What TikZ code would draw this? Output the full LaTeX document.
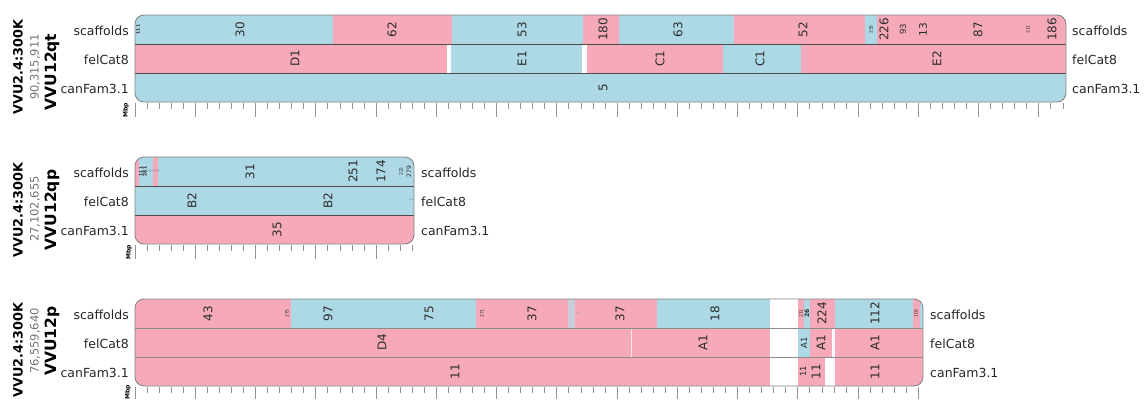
\documentclass[tikz,border=0pt]{standalone}
\usepackage{fontspec}
\setmainfont{DejaVu Sans}
\definecolor{bl}{RGB}{173,216,230}
\definecolor{pk}{RGB}{246,170,185}
\definecolor{gb}{RGB}{200,205,215}
\definecolor{txt}{RGB}{45,45,45}
\tikzset{
  lab/.style={rotate=90, font=\fontsize{12}{12}\selectfont, text=txt, inner sep=0pt},
  slab/.style={rotate=90, font=\fontsize{8.5}{8.5}\selectfont, text=txt, inner sep=0pt},
  tlab/.style={rotate=90, font=\fontsize{4.5}{4.5}\selectfont, text=txt, inner sep=0pt},
  glab/.style={rotate=90, font=\fontsize{4.5}{4.5}\selectfont, text=black!45, inner sep=0pt},
  rowlab/.style={font=\fontsize{12.5}{12.5}\selectfont, text=black!85, inner sep=0pt},
  ttl/.style={rotate=90, font=\bfseries\fontsize{12.8}{12.8}\selectfont, inner sep=0pt},
  chr/.style={rotate=90, font=\bfseries\fontsize{15.5}{15.5}\selectfont, inner sep=0pt},
  num/.style={rotate=90, font=\fontsize{11.5}{11.5}\selectfont, text=black!55, inner sep=0pt},
  mbp/.style={rotate=90, font=\bfseries\fontsize{6}{6}\selectfont, inner sep=0pt},
  tickmark/.style={draw=black!42, line width=0.7pt},
  outline/.style={draw=black!50, line width=0.8pt, rounded corners=9pt},
  sepline/.style={draw=black!70, line width=0.9pt},
}
\begin{document}
\begin{tikzpicture}[x=1pt,y=-1pt]
\useasboundingbox (0,0) rectangle (1145,399);

% ================= Panel 1 =================
\begin{scope}
\clip[rounded corners=9pt] (135,15) rectangle (1066,102);
\foreach \a/\b/\c in {135/333/bl,333/452/pk,452/583/bl,583/619/pk,619/734/bl,734/865/pk,865/877/bl,877/1066/pk}
  \fill[fill=\c] (\a,15) rectangle (\b,44);
\foreach \a/\b/\c in {135/447/pk,447/451/white,451/582/bl,582/587/white,587/723/pk,723/801/bl,801/1066/pk}
  \fill[fill=\c] (\a,44) rectangle (\b,73);
\fill[bl] (135,73) rectangle (1066,102);
\end{scope}
\draw[sepline] (135,44) -- (1066,44) (135,73) -- (1066,73);
\draw[outline] (135,15) rectangle (1066,102);
\foreach \k in {0,...,77} \draw[tickmark] ({135+12.05*\k},103) -- ++(0,6);
\foreach \k in {0,5,...,75} \draw[tickmark] ({135+12.05*\k},103) -- ++(0,14);

\node[tlab,font=\bfseries\fontsize{4.5}{4.5}\selectfont] (a0) at (138,29.5) {111};
\node[lab] (a1) at (240,29.5) {30};
\node[lab] (a2) at (392,29.5) {62};
\node[lab] (a3) at (522,29.5) {53};
\node[lab] (a4) at (603,29.5) {180};
\node[lab] (a5) at (678,29.5) {63};
\node[lab] (a6) at (803,29.5) {52};
\node[tlab] (a7) at (871,29.5) {235};
\node[lab] (a8) at (884,29.5) {226};
\node[slab] (a9) at (903,29.5) {93};
\node[lab,font=\fontsize{10.5}{10.5}\selectfont] (a10) at (923,29.5) {13};
\node[lab] (a11) at (978,29.5) {87};
\node[tlab] (a12) at (1028,29.5) {211};
\node[lab] (a13) at (1052,29.5) {186};

\node[lab] (b1) at (295,58.5) {D1};
\node[lab] (b2) at (522,58.5) {E1};
\node[lab] (b3) at (660,58.5) {C1};
\node[lab] (b4) at (760,58.5) {C1};
\node[lab] (b5) at (937,58.5) {E2};

\node[lab] (c1) at (603,87.5) {5};

\node[rowlab,anchor=east] (l1a) at (129,30.5) {scaffolds};
\node[rowlab,anchor=east] (l1b) at (129,59.5) {felCat8};
\node[rowlab,anchor=east] (l1c) at (129,88.5) {canFam3.1};
\node[rowlab,anchor=west] (r1a) at (1072,30.5) {scaffolds};
\node[rowlab,anchor=west] (r1b) at (1072,59.5) {felCat8};
\node[rowlab,anchor=west] (r1c) at (1072,88.5) {canFam3.1};

\node[ttl] (t1a) at (18,67) {VVU2.4:300K};
\node[num] (t1b) at (35,67) {90,315,911};
\node[chr] (t1c) at (52,72) {VVU12qt};
\node[mbp] (m1) at (126,110) {Mbp};

% ================= Panel 2 =================
\begin{scope}
\clip[rounded corners=9pt] (135,157) rectangle (414,244);
\foreach \a/\b/\c in {135/139/pk,139/153/bl,153/158/pk,158/414/bl}
  \fill[fill=\c] (\a,157) rectangle (\b,186);
\fill[bl] (135,186) rectangle (414,215);
\fill[pk] (135,215) rectangle (414,244);
\end{scope}
\draw[sepline] (135,186) -- (414,186) (135,215) -- (414,215);
\draw[outline] (135,157) rectangle (414,244);
\foreach \k in {0,...,23} \draw[tickmark] ({135+12.05*\k},245) -- ++(0,6);
\foreach \k in {0,5,...,20} \draw[tickmark] ({135+12.05*\k},245) -- ++(0,14);

\node[tlab,font=\bfseries\fontsize{4.5}{4.5}\selectfont] (d0) at (141,171.5) {111};
\node[tlab,font=\bfseries\fontsize{4.5}{4.5}\selectfont] (d0b) at (145,171.5) {281};
\node[glab] (d0c) at (150,171.5) {4};
\node[glab] (d0d) at (154,171.5) {4};
\node[glab] (d0e) at (158,171.5) {4};
\node[lab] (d1) at (250,171.5) {31};
\node[lab] (d2) at (353,171.5) {251};
\node[lab] (d3) at (381,171.5) {174};
\node[tlab] (d4) at (401,171.5) {222};
\node[tlab,font=\fontsize{6}{6}\selectfont] (d5) at (409,171.5) {279};

\node[lab] (e1) at (192,200.5) {B2};
\node[lab] (e2) at (328,200.5) {B2};
\node[glab] (e3) at (411,200.5) {1};

\node[lab] (f1) at (277,229.5) {35};

\node[rowlab,anchor=east] (l2a) at (129,172.5) {scaffolds};
\node[rowlab,anchor=east] (l2b) at (129,201.5) {felCat8};
\node[rowlab,anchor=east] (l2c) at (129,230.5) {canFam3.1};
\node[rowlab,anchor=west] (r2a) at (421,172.5) {scaffolds};
\node[rowlab,anchor=west] (r2b) at (421,201.5) {felCat8};
\node[rowlab,anchor=west] (r2c) at (421,230.5) {canFam3.1};

\node[ttl] (t2a) at (18,210) {VVU2.4:300K};
\node[num] (t2b) at (35,209) {27,102,655};
\node[chr] (t2c) at (52,210) {VVU12qp};
\node[mbp] (m2) at (129,252) {Mbp};

% ================= Panel 3 =================
\begin{scope}
\clip[rounded corners=9pt] (135,299) rectangle (923,386);
\foreach \a/\b/\c in {135/291/pk,291/476/bl,476/568/pk,568/575/gb,575/657/pk,657/770/bl,770/798/white,798/804/pk,804/810/bl,810/835/pk,835/913/bl,913/920/pk,920/923/bl}
  \fill[fill=\c] (\a,299) rectangle (\b,328);
\foreach \a/\b/\c in {135/770/pk,770/798/white,798/810/bl,810/832/pk,832/835/white,835/923/pk}
  \fill[fill=\c] (\a,328) rectangle (\b,357);
\foreach \a/\b/\c in {135/770/pk,770/798/white,798/825/pk,825/835/white,835/923/pk}
  \fill[fill=\c] (\a,357) rectangle (\b,386);
\draw[white!70!pk, line width=1pt] (631.5,328) -- (631.5,357);
\end{scope}
\draw[sepline,draw=black!45] (135,328) -- (923,328) (135,357) -- (923,357);
\draw[outline] (135,299) rectangle (923,386);
\foreach \k in {0,...,65} \draw[tickmark] ({135+12.05*\k},387) -- ++(0,6);
\foreach \k in {0,5,...,65} \draw[tickmark] ({135+12.05*\k},387) -- ++(0,12);

\node[lab] (g1) at (208,313.5) {43};
\node[tlab] (g2) at (287,313.5) {275};
\node[lab] (g3) at (328,313.5) {97};
\node[lab] (g4) at (429,313.5) {75};
\node[tlab] (g5) at (482,313.5) {271};
\node[lab] (g6) at (532,313.5) {37};
\node[glab] (g7) at (578,313.5) {+};
\node[lab] (g8) at (620,313.5) {37};
\node[lab] (g9) at (715,313.5) {18};
\node[tlab] (g10) at (801,313.5) {211};
\node[tlab,font=\bfseries\fontsize{6}{6}\selectfont] (g11) at (807,313.5) {26};
\node[lab] (g12) at (822,313.5) {224};
\node[lab] (g13) at (875,313.5) {112};
\node[tlab] (g14) at (916,313.5) {103};

\node[lab] (h1) at (382,342.5) {D4};
\node[lab] (h2) at (703,342.5) {A1};
\node[slab] (h3) at (804,342.5) {A1};
\node[lab] (h4) at (821,342.5) {A1};
\node[lab] (h5) at (875,342.5) {A1};

\node[lab] (i1) at (455,371.5) {11};
\node[slab] (i2) at (803,371.5) {11};
\node[lab] (i3) at (816,371.5) {11};
\node[lab] (i4) at (875,371.5) {11};

\node[rowlab,anchor=east] (l3a) at (129,314.5) {scaffolds};
\node[rowlab,anchor=east] (l3b) at (129,343.5) {felCat8};
\node[rowlab,anchor=east] (l3c) at (129,372.5) {canFam3.1};
\node[rowlab,anchor=west] (r3a) at (930,314.5) {scaffolds};
\node[rowlab,anchor=west] (r3b) at (930,343.5) {felCat8};
\node[rowlab,anchor=west] (r3c) at (930,372.5) {canFam3.1};

\node[ttl] (t3a) at (18,350) {VVU2.4:300K};
\node[num] (t3b) at (35,341) {76,559,640};
\node[chr] (t3c) at (52,341) {VVU12p};
\node[mbp] (m3) at (128,392) {Mbp};
\end{tikzpicture}
\end{document}
